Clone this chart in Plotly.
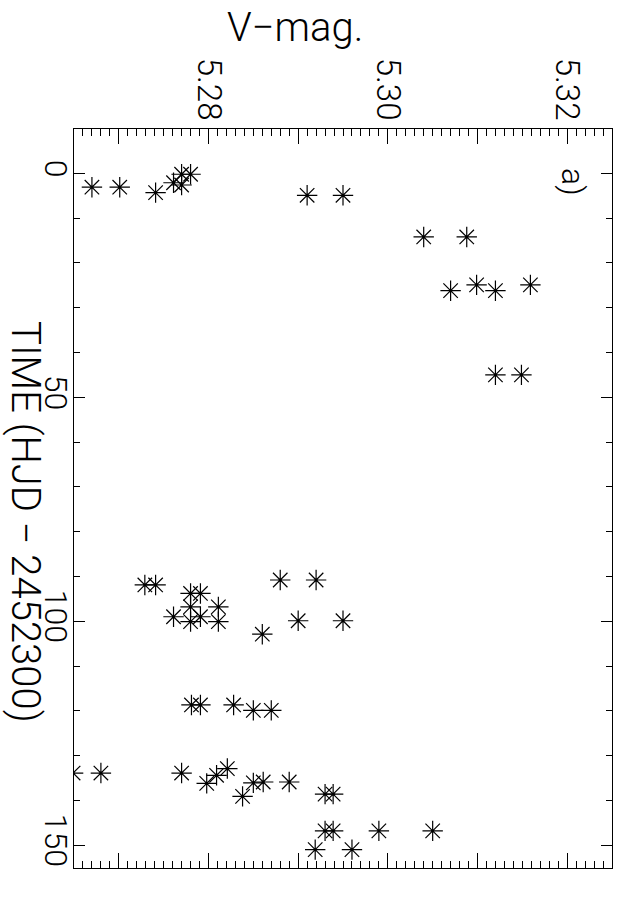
import plotly.graph_objects as go

# Time (HJD - 2452300) and V magnitude
time = [3.1, 3.1, 4.3, 2.1, 2.6, 0.2, 0.2, 4.9, 4.9,
        14.2, 14.2, 26.2, 24.9, 26.2, 24.9, 45.0, 45.0,
        91.9, 91.9, 93.8, 93.8, 96.8, 99.0, 100.1, 99.0, 96.8, 100.1,
        90.8, 90.8, 102.9, 99.9, 99.9,
        118.7, 118.7, 118.7, 119.9, 119.9,
        133.9, 133.9, 133.9, 136.2, 134.4, 132.9, 139.1, 136.1, 135.9, 135.9,
        138.6, 138.6, 146.8, 146.8, 146.8, 146.8, 151.0, 151.0]
vmag = [5.2670, 5.2701, 5.2741, 5.2761, 5.2770, 5.2770, 5.2780, 5.2910, 5.2950,
        5.3040, 5.3088, 5.3070, 5.3099, 5.3120, 5.3159, 5.3120, 5.3149,
        5.2729, 5.2741, 5.2780, 5.2791, 5.2780, 5.2761, 5.2780, 5.2791, 5.2811, 5.2811,
        5.2880, 5.2920, 5.2860, 5.2900, 5.2950,
        5.2781, 5.2791, 5.2828, 5.2850, 5.2870,
        5.2649, 5.2680, 5.2770, 5.2798, 5.2809, 5.2821, 5.2838, 5.2850, 5.2861, 5.2890,
        5.2930, 5.2939, 5.2930, 5.2939, 5.2990, 5.3050, 5.2919, 5.2960]

x_tickvals = [5.27, 5.28, 5.29, 5.30, 5.31, 5.32]
x_ticktext = ["", "5.28", "", "5.30", "", "5.32"]
y_tickvals = [0, 50, 100, 150]
y_ticktext = ["0", "50", "100", "150"]

FONT = "Roboto"
WT = 300

fig = go.Figure()
fig.add_trace(go.Scatter(
    x=vmag, y=time, mode="markers",
    marker=dict(symbol="asterisk-open", size=17, color="black",
                line=dict(color="black", width=1.2)),
    showlegend=False,
))

L, R, T, B = 74, 9, 129, 35
W, H = 621, 903
pw, ph = W - L - R, H - T - B

def px(x):
    return (x - L) / pw

def py(y):
    return (H - B - y) / ph

fig.update_layout(
    width=W, height=H,
    margin=dict(l=L, r=R, t=T, b=B),
    paper_bgcolor="white", plot_bgcolor="white",
    font=dict(family=FONT, color="black", size=30, weight=WT),
    xaxis=dict(
        range=[5.2650, 5.3250], side="top", automargin=False,
        tickvals=x_tickvals, ticktext=x_ticktext, tickangle=90,
        ticks="inside", ticklen=15, tickwidth=1, tickcolor="black",
        minor=dict(dtick=0.001, ticks="inside", ticklen=7, tickwidth=1, tickcolor="black"),
        showline=True, linecolor="black", linewidth=1, mirror="allticks",
        showgrid=False, zeroline=False, ticklabelstandoff=-4,
        tickfont=dict(family=FONT, size=33, color="black", weight=WT),
    ),
    yaxis=dict(
        range=[155.1, -9.9], automargin=False,
        tickvals=y_tickvals, ticktext=y_ticktext, tickangle=90,
        ticks="inside", ticklen=11, tickwidth=1, tickcolor="black",
        minor=dict(dtick=10, ticks="inside", ticklen=6, tickwidth=1, tickcolor="black"),
        showline=True, linecolor="black", linewidth=1, mirror="allticks",
        showgrid=False, zeroline=False, ticklabelstandoff=-10,
        tickfont=dict(family=FONT, size=32, color="black", weight=WT),
    ),
    annotations=[
        dict(text="V−mag.", x=px(295), y=py(28), xref="paper", yref="paper",
             showarrow=False, xanchor="center", yanchor="middle",
             font=dict(family=FONT, size=40, color="black", weight=WT)),
        dict(text="TIME (HJD − 2452300)", x=px(26), y=py(522), xref="paper", yref="paper",
             showarrow=False, xanchor="center", yanchor="middle", textangle=90,
             font=dict(family=FONT, size=40, color="black", weight=WT)),
        dict(text="a)", x=px(573), y=py(182), xref="paper", yref="paper",
             showarrow=False, xanchor="center", yanchor="middle", textangle=90,
             font=dict(family=FONT, size=32, color="black", weight=WT)),
    ],
)

fig.write_html("out.html", config={"displayModeBar": False},
               post_script="document.body.style.margin='0';")
